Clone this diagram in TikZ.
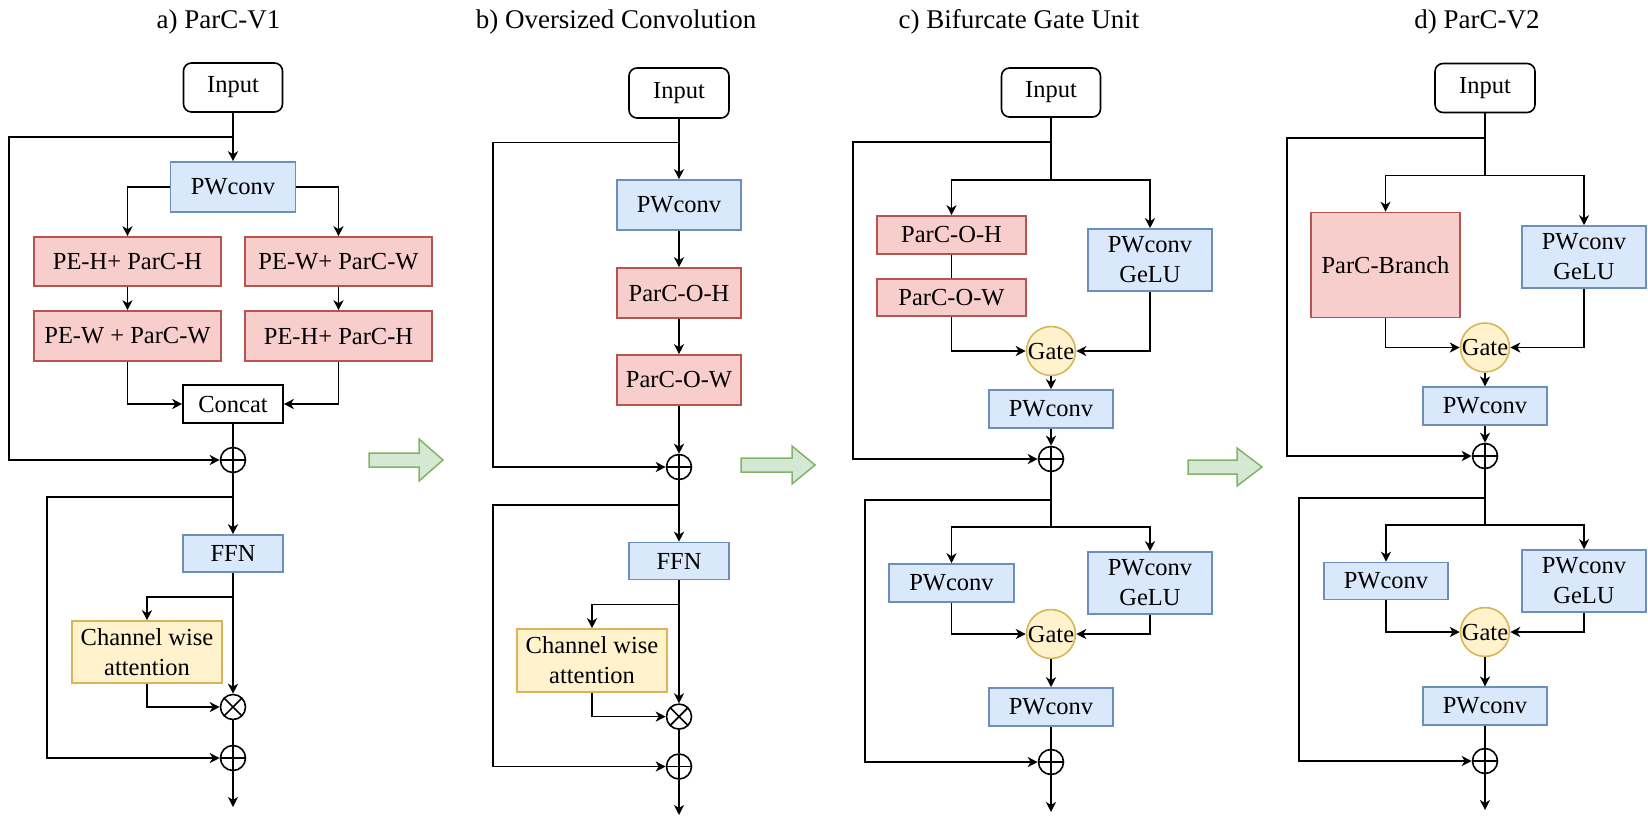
\documentclass[tikz,border=0pt]{standalone}
\usepackage{fontspec}
\setmainfont{Liberation Serif}
\usetikzlibrary{arrows.meta}
\definecolor{bfill}{HTML}{DAE8FC}\definecolor{bline}{HTML}{6C8EBF}
\definecolor{rfill}{HTML}{F8CECC}\definecolor{rline}{HTML}{B85450}
\definecolor{yfill}{HTML}{FFF2CC}\definecolor{yline}{HTML}{D6B656}
\definecolor{gfill}{HTML}{D5E8D4}\definecolor{gline}{HTML}{82B366}
\tikzset{
  base/.style={draw, line width=1.6pt, inner sep=0pt, align=center, font=\fontsize{24.5}{30}\selectfont},
  inbox/.style={base, rounded corners=8pt, fill=white},
  plainbox/.style={base, fill=white},
  bluebox/.style={base, fill=bfill, draw=bline},
  redbox/.style={base, fill=rfill, draw=rline},
  yelbox/.style={base, fill=yfill, draw=yline},
  gatenode/.style={base, circle, fill=yfill, draw=yline},
  oplus/.style={circle, draw, line width=1.6pt, minimum size=25pt, inner sep=0pt,
    path picture={\draw[line width=1.6pt] (path picture bounding box.north) -- (path picture bounding box.south)
      (path picture bounding box.west) -- (path picture bounding box.east);}},
  otimes/.style={circle, draw, line width=1.6pt, minimum size=25pt, inner sep=0pt,
    path picture={\draw[line width=1.6pt] (path picture bounding box.north west) -- (path picture bounding box.south east)
      (path picture bounding box.north east) -- (path picture bounding box.south west);}},
  conn/.style={line width=1.6pt},
  arr/.style={line width=1.6pt, -{Stealth[length=10pt,width=10pt,inset=3pt]}},
  ttl/.style={anchor=base, font=\fontsize{27}{32}\selectfont},
  garrow/.style={fill=gfill, draw=gline, line width=1.5pt, line join=miter},
}
\begin{document}
\begin{tikzpicture}[x=1pt,y=-1pt]
\useasboundingbox (0,0) rectangle (1648,820);
% ---------- titles ----------
\node[ttl] (ta) at (218.5,28) {a) ParC-V1};
\node[ttl] (tb) at (616,28) {b) Oversized Convolution};
\node[ttl] (tc) at (1019,28) {c) Bifurcate Gate Unit};
\node[ttl] (td) at (1477,28) {d) ParC-V2};
% ---------- green arrows ----------
\draw[garrow] (369,453) -- (419,453) -- (419,439) -- (443,460) -- (419,481) -- (419,467) -- (369,467) -- cycle;
\draw[garrow] (741,458) -- (792,458) -- (792,446) -- (815,465) -- (792,484) -- (792,472) -- (741,472) -- cycle;
\draw[garrow] (1188,460) -- (1237,460) -- (1237,448) -- (1262,467) -- (1237,486) -- (1237,474) -- (1188,474) -- cycle;
% ================= panel a =================
\node[inbox, minimum width=99pt, minimum height=49pt] (aIn) at (233,87.5) {Input};
\node[bluebox, minimum width=125pt, minimum height=50pt] (aPW) at (233,187) {PWconv};
\node[redbox, minimum width=187pt, minimum height=49pt] (aB1) at (127.5,261.5) {PE-H+ ParC-H};
\node[redbox, minimum width=187pt, minimum height=50pt] (aB2) at (127.5,336) {PE-W + ParC-W};
\node[redbox, minimum width=187pt, minimum height=49pt] (aB3) at (338.5,261.5) {PE-W+ ParC-W};
\node[redbox, minimum width=187pt, minimum height=50pt] (aB4) at (338.5,336) {PE-H+ ParC-H};
\node[plainbox, minimum width=100pt, minimum height=38pt] (aCat) at (233,404) {Concat};
\node[oplus] (aP1) at (233,460) {};
\node[bluebox, minimum width=100pt, minimum height=37pt] (aFFN) at (233,553.5) {FFN};
\node[yelbox, minimum width=150pt, minimum height=62pt] (aCW) at (147,652) {Channel wise\\attention};
\node[otimes] (aX) at (233,707) {};
\node[oplus] (aP2) at (233,758) {};
\coordinate (aj1) at (233,137); \coordinate (al1) at (9,137);
\coordinate (aj2) at (233,497); \coordinate (al2) at (47,497);
\coordinate (aj3) at (233,597); \coordinate (aEnd) at (233,807);
\draw[arr] (aIn) -- (aPW);
\draw[arr] (aj1) -- (al1) |- (aP1);
\draw[arr] (aPW.west) -| (aB1);
\draw[arr] (aPW.east) -| (aB3);
\draw[arr] (aB1) -- (aB2);
\draw[arr] (aB3) -- (aB4);
\draw[arr] (aB2) |- (aCat);
\draw[arr] (aB4) |- (aCat);
\draw[conn] (aCat) -- (aP1);
\draw[arr] (aP1) -- (aFFN);
\draw[arr] (aj2) -- (al2) |- (aP2);
\draw[arr] (aj3) -| (aCW);
\draw[arr] (aFFN) -- (aX);
\draw[arr] (aCW) |- (aX);
\draw[conn] (aX) -- (aP2);
\draw[arr] (aP2) -- (aEnd);
% ================= panel b =================
\node[inbox, minimum width=100pt, minimum height=50pt] (bIn) at (679,93) {Input};
\node[bluebox, minimum width=124pt, minimum height=50pt] (bPW) at (679,205) {PWconv};
\node[redbox, minimum width=124pt, minimum height=50pt] (bOH) at (679,293) {ParC-O-H};
\node[redbox, minimum width=124pt, minimum height=50pt] (bOW) at (679,380) {ParC-O-W};
\node[oplus] (bP1) at (679,467) {};
\node[bluebox, minimum width=100pt, minimum height=37pt] (bFFN) at (679,561) {FFN};
\node[yelbox, minimum width=150pt, minimum height=63pt] (bCW) at (592,660.5) {Channel wise\\attention};
\node[otimes] (bX) at (679,716.6) {};
\node[oplus] (bP2) at (679,766.5) {};
\coordinate (bj1) at (679,142.5); \coordinate (bl1) at (493,142.5);
\coordinate (bj2) at (679,505); \coordinate (bl2) at (493,505);
\coordinate (bj3) at (679,604.6); \coordinate (bEnd) at (679,815);
\draw[arr] (bIn) -- (bPW);
\draw[arr] (bj1) -- (bl1) |- (bP1);
\draw[arr] (bPW) -- (bOH);
\draw[arr] (bOH) -- (bOW);
\draw[arr] (bOW) -- (bP1);
\draw[arr] (bP1) -- (bFFN);
\draw[arr] (bj2) -- (bl2) |- (bP2);
\draw[arr] (bj3) -| (bCW);
\draw[arr] (bFFN) -- (bX);
\draw[arr] (bCW) |- (bX);
\draw[conn] (bX) -- (bP2);
\draw[arr] (bP2) -- (bEnd);
% ================= panel c =================
\node[inbox, minimum width=99pt, minimum height=49pt] (cIn) at (1051,92.5) {Input};
\node[redbox, minimum width=149pt, minimum height=38pt] (cOH) at (951.5,235) {ParC-O-H};
\node[redbox, minimum width=149pt, minimum height=37pt] (cOW) at (951.5,297.5) {ParC-O-W};
\node[bluebox, minimum width=124pt, minimum height=62pt] (cGL1) at (1150,260) {PWconv\\GeLU};
\node[gatenode, minimum size=49pt] (cG1) at (1051,351) {Gate};
\node[bluebox, minimum width=124pt, minimum height=38pt] (cPW1) at (1051,409) {PWconv};
\node[oplus] (cP1) at (1051,459) {};
\node[bluebox, minimum width=125pt, minimum height=38pt] (cPWL) at (951.5,583) {PWconv};
\node[bluebox, minimum width=124pt, minimum height=62pt] (cGL2) at (1150,583) {PWconv\\GeLU};
\node[gatenode, minimum size=45pt] (cG2) at (1051,634) {Gate};
\node[bluebox, minimum width=124pt, minimum height=38pt] (cPW2) at (1051,707) {PWconv};
\node[oplus] (cP2) at (1051,762) {};
\coordinate (cj1) at (1051,142); \coordinate (cl1) at (853,142);
\coordinate (cj2) at (1051,180);
\coordinate (cj3) at (1051,500); \coordinate (cl3) at (865,500);
\coordinate (cj4) at (1051,527); \coordinate (cEnd) at (1051,812);
\draw[conn] (cIn) -- (cj2);
\draw[arr] (cj1) -- (cl1) |- (cP1);
\draw[arr] (cj2) -| (cOH);
\draw[arr] (cj2) -| (cGL1);
\draw[conn] (cOH) -- (cOW);
\draw[arr] (cOW) |- (cG1);
\draw[arr] (cGL1) |- (cG1);
\draw[arr] (cG1) -- (cPW1);
\draw[arr] (cPW1) -- (cP1);
\draw[conn] (cP1) -- (cj4);
\draw[arr] (cj3) -- (cl3) |- (cP2);
\draw[arr] (cj4) -| (cPWL);
\draw[arr] (cj4) -| (cGL2);
\draw[arr] (cPWL) |- (cG2);
\draw[arr] (cGL2) |- (cG2);
\draw[arr] (cG2) -- (cPW2);
\draw[conn] (cPW2) -- (cP2);
\draw[arr] (cP2) -- (cEnd);
% ================= panel d =================
\node[inbox, minimum width=100pt, minimum height=49pt] (dIn) at (1485,88) {Input};
\node[redbox, minimum width=149pt, minimum height=105pt] (dPB) at (1385.5,265) {ParC-Branch};
\node[bluebox, minimum width=124pt, minimum height=62pt] (dGL1) at (1584,257) {PWconv\\GeLU};
\node[gatenode, minimum size=49pt] (dG1) at (1485,347.5) {Gate};
\node[bluebox, minimum width=124pt, minimum height=37.5pt] (dPW1) at (1485,406) {PWconv};
\node[oplus] (dP1) at (1485,456) {};
\node[bluebox, minimum width=124pt, minimum height=37pt] (dPWL) at (1386,581) {PWconv};
\node[bluebox, minimum width=124pt, minimum height=62pt] (dGL2) at (1584,581) {PWconv\\GeLU};
\node[gatenode, minimum size=45pt] (dG2) at (1485,632) {Gate};
\node[bluebox, minimum width=124pt, minimum height=37.5pt] (dPW2) at (1485,706) {PWconv};
\node[oplus] (dP2) at (1485,761) {};
\coordinate (dj1) at (1485,138); \coordinate (dl1) at (1287,138);
\coordinate (dj2) at (1485,175.6);
\coordinate (dj3) at (1485,498); \coordinate (dl3) at (1299,498);
\coordinate (dj4) at (1485,524.7); \coordinate (dEnd) at (1485,810);
\draw[conn] (dIn) -- (dj2);
\draw[arr] (dj1) -- (dl1) |- (dP1);
\draw[arr] (dj2) -| (dPB);
\draw[arr] (dj2) -| (dGL1);
\draw[arr] (dPB) |- (dG1);
\draw[arr] (dGL1) |- (dG1);
\draw[arr] (dG1) -- (dPW1);
\draw[arr] (dPW1) -- (dP1);
\draw[conn] (dP1) -- (dj4);
\draw[arr] (dj3) -- (dl3) |- (dP2);
\draw[arr] (dj4) -| (dPWL);
\draw[arr] (dj4) -| (dGL2);
\draw[arr] (dPWL) |- (dG2);
\draw[arr] (dGL2) |- (dG2);
\draw[arr] (dG2) -- (dPW2);
\draw[conn] (dPW2) -- (dP2);
\draw[arr] (dP2) -- (dEnd);
\end{tikzpicture}
\end{document}
